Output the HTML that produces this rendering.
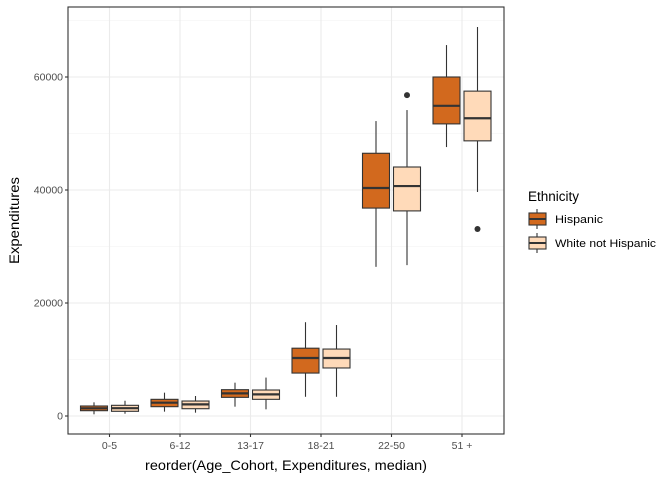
<!DOCTYPE html>
<html><head><meta charset="utf-8"><style>
body{margin:0;background:#fff;font-family:"Liberation Sans",sans-serif}
svg text{font-family:"Liberation Sans",sans-serif}
</style></head><body>
<svg id="c" width="672" height="480" xmlns="http://www.w3.org/2000/svg"></svg>
<script>
const categories=["0-5","6-12","13-17","18-21","22-50","51 +"];
const groups=["Hispanic","White not Hispanic"];
const hispLow=[300,770,1650,3400,26400,47600];
const hispQ1=[940,1650,3300,7600,36800,51700];
const hispMed=[1360,2360,4010,10260,40350,54900];
const hispQ3=[1770,2950,4660,12000,46500,60000];
const hispHigh=[2420,4130,5900,16600,52200,65650];
const hispOut=[[],[],[],[],[],[]];
const whiteLow=[400,590,1180,3400,26700,39650];
const whiteQ1=[830,1290,2950,8500,36300,48700];
const whiteMed=[1380,2060,3830,10260,40700,52700];
const whiteQ3=[1890,2650,4600,11850,44070,57500];
const whiteHigh=[2700,3540,6800,16100,54150,68850];
const whiteOut=[[],[],[],[],[56800],[33100]];
const yTicks=[0,20000,40000,60000];
const yMinor=[10000,30000,50000,70000];

const NS="http://www.w3.org/2000/svg";
const svg=document.getElementById("c");
const L=68,R=504,T=7,B=434;
const y=v=>416-v*113/20000;
const x=i=>109.5+i*70.5;
function el(tag,a,parent){const e=document.createElementNS(NS,tag);for(const k in a)e.setAttribute(k,a[k]);(parent||svg).appendChild(e);return e;}

let e=el("rect",{x:L,y:T,width:R-L,height:B-T,fill:"#fff"});


const grid=el("g",{});


yMinor.forEach(v=>{if(y(v)>T)el("line",{x1:L,x2:R,y1:y(v),y2:y(v),stroke:"#f2f2f2","stroke-width":0.6},grid);});
yTicks.forEach(v=>el("line",{x1:L,x2:R,y1:y(v),y2:y(v),stroke:"#ebebeb","stroke-width":1.1},grid));
categories.forEach((c,i)=>el("line",{x1:x(i),x2:x(i),y1:T,y2:B,stroke:"#ebebeb","stroke-width":1.1},grid));

function box(i,off,lo,q1,md,q3,hi,outs,fill,name){
  const g=el("g",{});
  
  
  const cx=x(i)+off,w=27;
  el("line",{x1:cx,x2:cx,y1:y(hi),y2:y(q3),stroke:"#333","stroke-width":1.1},g);
  el("line",{x1:cx,x2:cx,y1:y(q1),y2:y(lo),stroke:"#333","stroke-width":1.1},g);
  el("rect",{x:cx-w/2,y:y(q3),width:w,height:y(q1)-y(q3),fill:fill,stroke:"#333","stroke-width":1.1},g);
  el("line",{x1:cx-w/2,x2:cx+w/2,y1:y(md),y2:y(md),stroke:"#333","stroke-width":2.2},g);
  outs.forEach(o=>el("circle",{cx:cx,cy:y(o),r:3,fill:"#333"},g));
}
categories.forEach((c,i)=>{
  box(i,-15.5,hispLow[i],hispQ1[i],hispMed[i],hispQ3[i],hispHigh[i],hispOut[i],"#d2691e","box-hispanic-"+i);
  box(i,15.5,whiteLow[i],whiteQ1[i],whiteMed[i],whiteQ3[i],whiteHigh[i],whiteOut[i],"#ffdab9","box-white-"+i);
});
e=el("rect",{x:L,y:T,width:R-L,height:B-T,fill:"none",stroke:"#333","stroke-width":1.1});



yTicks.forEach(v=>{
  el("line",{x1:L-3,x2:L,y1:y(v),y2:y(v),stroke:"#333","stroke-width":1.1});
  const t=el("text",{x:L-5,y:y(v)+3.5,"text-anchor":"end","font-size":"10.5",fill:"#4d4d4d"});
  t.textContent=v;
  
  
});
categories.forEach((c,i)=>{
  el("line",{x1:x(i),x2:x(i),y1:B,y2:B+3,stroke:"#333","stroke-width":1.1});
  const t=el("text",{x:x(i),y:B+15,"text-anchor":"middle","font-size":"10.5",fill:"#4d4d4d"});
  t.textContent=c;
  
  
});
let t=el("text",{x:145,y:470,"font-size":"14",fill:"#000",textLength:282,lengthAdjust:"spacingAndGlyphs"});
t.textContent="reorder(Age_Cohort, Expenditures, median)";


t=el("text",{x:-264,y:19,"font-size":"14",fill:"#000",transform:"rotate(-90)",textLength:87,lengthAdjust:"spacingAndGlyphs"});
t.textContent="Expenditures";



const lg=el("g",{});


t=el("text",{x:528,y:201,"font-size":"13.5",fill:"#000"},lg);
t.textContent="Ethnicity";


[["#d2691e","Hispanic",213,48],["#ffdab9","White not Hispanic",237,101]].forEach(([f,l,ty,tl])=>{
  const g=el("g",{},lg);
  
  
  el("line",{x1:537,x2:537,y1:ty-4,y2:ty+16,stroke:"#333","stroke-width":1.1},g);
  el("rect",{x:529,y:ty,width:17,height:12,fill:f,stroke:"#333","stroke-width":1.1},g);
  el("line",{x1:529,x2:546,y1:ty+6,y2:ty+6,stroke:"#333","stroke-width":2},g);
  const tx=el("text",{x:555,y:ty+10,"font-size":"11",fill:"#000",textLength:tl,lengthAdjust:"spacingAndGlyphs"},g);
  tx.textContent=l;
});
</script>
</body></html>
